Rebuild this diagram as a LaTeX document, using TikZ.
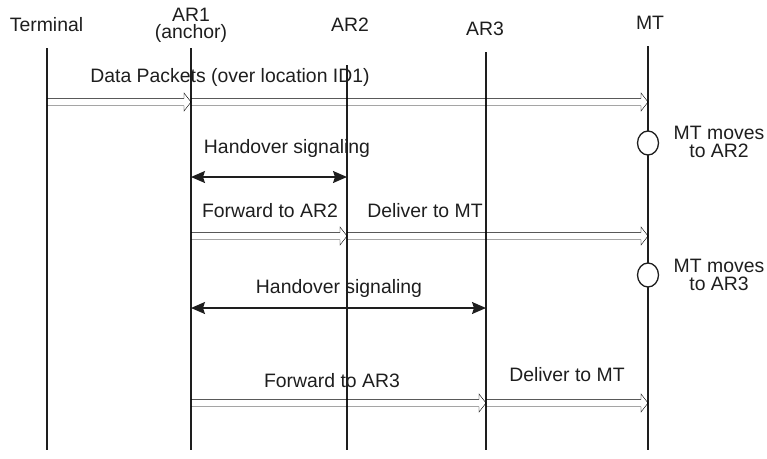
\documentclass[tikz,border=0pt]{standalone}
\usepackage{fontspec}
\setmainfont{Liberation Sans}
\usetikzlibrary{arrows.meta,calc,shapes.geometric}
\definecolor{ink}{HTML}{1e1e1e}
\begin{document}
\begin{tikzpicture}[x=1pt,y=-1pt,
  every node/.style={inner sep=0pt, text=ink},
  lbl/.style={anchor=base, font=\fontsize{19.4}{18}\selectfont},
  life/.style={draw=ink, line width=1.5pt},
  hollow/.style={draw=ink, line width=1.3pt, line join=miter,
    to path={let \p1=(\tikztostart), \p2=(\tikztotarget) in
      (\x1,\y1+3.7pt) -- (\x2-7pt,\y2+3.7pt) -- (\x2-7pt,\y2+9pt) -- (\x2,\y2)
      -- (\x2-7pt,\y2-9pt) -- (\x2-7pt,\y2-3.7pt) -- (\x1,\y1-3.7pt)}},
  sig/.style={draw=ink, line width=1.5pt, {Stealth[length=14pt,width=12pt,inset=2pt]}-{Stealth[length=14pt,width=12pt,inset=2pt]}},
  move/.style={draw=ink, line width=1.3pt, ellipse, fill=white, minimum width=21pt, minimum height=24pt}
]
\useasboundingbox (0,0) rectangle (767,458);

% lifeline heads
\node[lbl] (hT) at (46.5,31.7) {Terminal};
\node[lbl] (hA1) at (191,21) {AR1};
\node[lbl] (hA1b) at (191,38.5) {(anchor)};
\node[lbl] (hA2) at (350,31) {AR2};
\node[lbl] (hA3) at (485,35) {AR3};
\node[lbl] (hMT) at (650,29) {MT};

% lifelines
\coordinate (T0) at (47,48);   \coordinate (T1) at (47,450);
\coordinate (A10) at (191,48); \coordinate (A11) at (191,450);
\coordinate (A20) at (347,65); \coordinate (A21) at (347,450);
\coordinate (A30) at (486,52); \coordinate (A31) at (486,450);
\coordinate (M0) at (648,46);  \coordinate (M1) at (648,450);
\draw[life] (T0) -- (T1);
\draw[life] (A10) -- (A11);
\draw[life] (A20) -- (A21);
\draw[life] (A30) -- (A31);
\draw[life] (M0) -- (M1);

% data packets
\coordinate (dT) at (47,102); \coordinate (dA1) at (191,102); \coordinate (dM) at (648,102);
\draw (dT) to[hollow] (dA1);
\draw (dA1) to[hollow] (dM);
\node[lbl] (tData) at (230,82) {Data Packets (over location ID1)};

% MT moves to AR2
\node[move] (c1) at (648,143) {};
\node[lbl, align=center] (tMove1) at (719,157) {MT moves\\to AR2};

% handover signaling 1
\coordinate (h1a) at (191,177); \coordinate (h1b) at (347,177);
\draw[sig] (h1a) -- (h1b);
\node[lbl] (tH1) at (287,153) {Handover signaling};

% forward to AR2 / deliver
\coordinate (f1a) at (191,236); \coordinate (f1b) at (347,236); \coordinate (f1c) at (648,236);
\draw (f1a) to[hollow] (f1b);
\draw (f1b) to[hollow] (f1c);
\node[lbl] (tF1) at (270,217) {Forward to AR2};
\node[lbl] (tD1) at (425,217) {Deliver to MT};

% MT moves to AR3
\node[move] (c2) at (648,275) {};
\node[lbl, align=center] (tMove2) at (719,290) {MT moves\\to AR3};

% handover signaling 2
\coordinate (h2a) at (191,308); \coordinate (h2b) at (486,308);
\draw[sig] (h2a) -- (h2b);
\node[lbl] (tH2) at (339,293) {Handover signaling};

% forward to AR3 / deliver
\coordinate (f2a) at (191,403); \coordinate (f2b) at (486,403); \coordinate (f2c) at (648,403);
\draw (f2a) to[hollow] (f2b);
\draw (f2b) to[hollow] (f2c);
\node[lbl] (tF2) at (332,387) {Forward to AR3};
\node[lbl] (tD2) at (567,381) {Deliver to MT};
\end{tikzpicture}
\end{document}
